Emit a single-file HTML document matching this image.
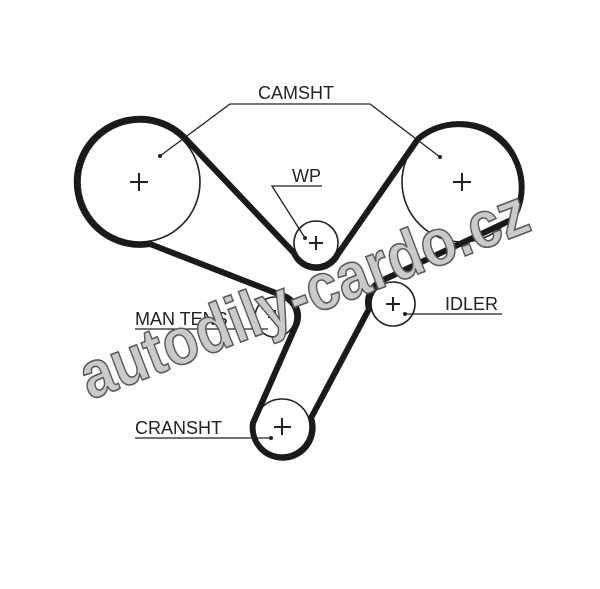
<!DOCTYPE html>
<html><head><style>
html,body{margin:0;padding:0;background:#fff;width:600px;height:589px;overflow:hidden}
</style></head><body>
<svg width="600" height="589" viewBox="0 0 600 589" xmlns="http://www.w3.org/2000/svg">
<g fill="none" stroke="#222" stroke-width="1.6">
<circle cx="140" cy="182" r="60"/>
<circle cx="462" cy="182" r="60"/>
<circle cx="316" cy="243" r="22"/>
<circle cx="275" cy="317" r="20"/>
<circle cx="393" cy="304" r="22"/>
<circle cx="282" cy="427" r="28"/>
</g>
<g stroke="#222" stroke-width="2">
<path d="M130 182h18M139 173v18M453 182h18M462 173v18M309 243h14M316 236v14M268 317h14M275 310v14M386 304h14M393 297v14M274 427h17M282 418v17"/>
</g>
<path d="M183,136 L294,253 A24 24 0 0 0 338,254 L418,139 A63 63 0 0 1 513,219 L381,281 A24 24 0 0 0 369,309 L311,418 A30 30 0 1 1 253,423 L297,323 A22 22 0 0 0 281,295 L150,244 A63 63 0 1 1 183,136 Z" fill="none" stroke="#1a1a1a" stroke-width="6" stroke-linejoin="round"/>
<g fill="none" stroke="#222" stroke-width="1.3">
<polyline points="160,156 230,104 370,104 440,157"/>
<polyline points="305,238 272,186 322,186"/>
<line x1="135" y1="329" x2="268" y2="329"/>
<line x1="405" y1="314" x2="502" y2="314"/>
<line x1="135" y1="438" x2="271" y2="438"/>
</g>
<g fill="#222"><circle cx="160" cy="156" r="2"/><circle cx="440" cy="157" r="2"/><circle cx="305" cy="238" r="2"/><circle cx="405" cy="314" r="2"/><circle cx="271" cy="438" r="2"/></g>
<g font-family="Liberation Sans, sans-serif" font-size="18" fill="#222">
<text x="258" y="99">CAMSHT</text>
<text x="292" y="182">WP</text>
<text x="135" y="325">MAN TENS</text>
<text x="445" y="310">IDLER</text>
<text x="135" y="434">CRANSHT</text>
</g>
<text x="0" y="0" transform="translate(90,400) rotate(-21)" font-family="Liberation Sans, sans-serif" font-size="66" font-weight="bold" fill="#cacaca" stroke="#5a5a5a" stroke-width="1.6" textLength="475" lengthAdjust="spacingAndGlyphs">autodily-cardo.cz</text>
</svg>
</body></html>
